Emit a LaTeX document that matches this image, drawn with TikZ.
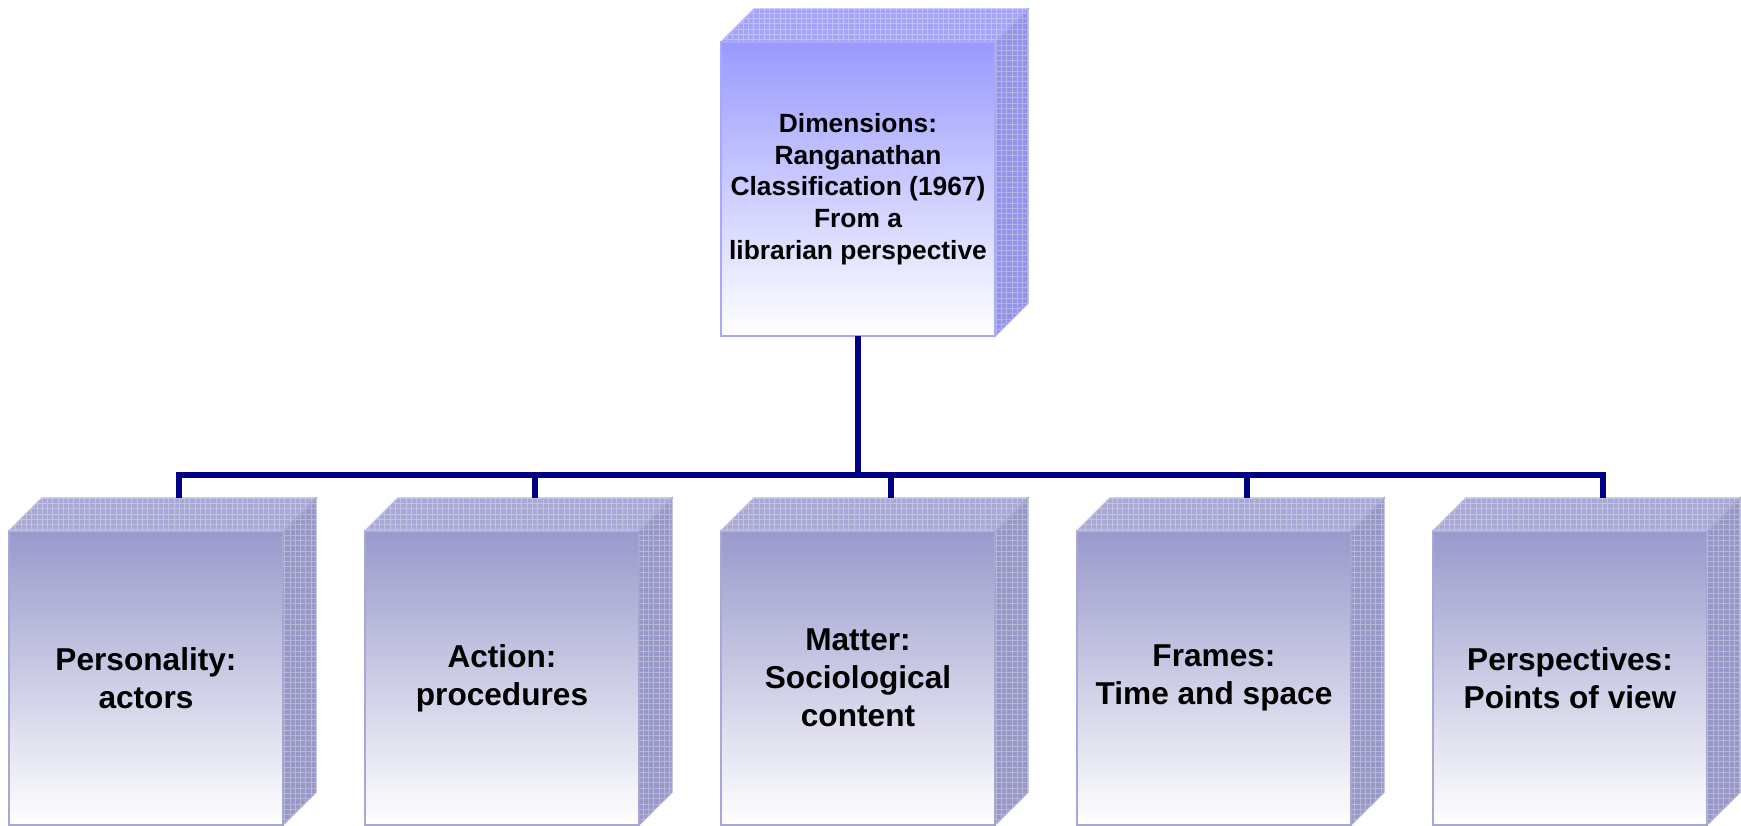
\documentclass[tikz,border=0pt]{standalone}
\usepackage{fontspec}
\setmainfont{Liberation Sans}
\usetikzlibrary{patterns}
\definecolor{trunkblue}{RGB}{0,0,128}
\definecolor{dimface}{RGB}{153,153,255}
\definecolor{dimlid}{RGB}{164,164,246}
\definecolor{dimside}{RGB}{148,148,230}
\definecolor{boxface}{RGB}{153,153,204}
\definecolor{boxlid}{RGB}{168,168,214}
\definecolor{boxside}{RGB}{152,152,200}
\tikzset{trunk/.style={draw=trunkblue, line width=3.4pt}}
\tikzset{facet/.style={draw=#1!85!white, line width=0.8pt, inner sep=0pt, outer sep=0pt, minimum width=5.48cm, minimum height=5.88cm, align=center, top color=#1, bottom color=white, font=\bfseries\fontsize{18}{21.5}\selectfont}}
\tikzset{slab/.style={fill=#1, draw=#1!85!white, line width=0.8pt, postaction={pattern=grid, pattern color=#1!70!white}}}

\begin{document}
\begin{tikzpicture}[x=0.02cm, y=-0.02cm]
    \useasboundingbox (0,0) rectangle (1741,825);
    \fill[slab=dimlid] (721,42) -- ++(33,-33) -- ++(274,0) -- (995,42) -- cycle;
    \fill[slab=dimside] (995,42) -- ++(33,-33) -- ++(0,294) -- (995,336) -- cycle;
    \node[facet=dimface, font=\bfseries\fontsize{15}{18}\selectfont] (dim) at (858,189) {Dimensions:\\Ranganathan\\Classification (1967)\\From a\\librarian perspective};
    \foreach \name/\cx/\txt in {pers/146/{Personality:\\actors}, act/502/{Action:\\procedures}, matt/858/{Matter:\\Sociological\\content}, fram/1214/{Frames:\\Time and space}, persp/1570/{Perspectives:\\Points of view}} {
        \node[facet=boxface] (\name) at (\cx,678) {\txt};
        \fill[slab=boxlid] (\name.north west) -- ++(33,-33) -- ++(274,0) -- (\name.north east) -- cycle;
        \fill[slab=boxside] (\name.north east) -- ++(33,-33) -- ++(0,294) -- (\name.south east) -- cycle;
        \coordinate (\name-top) at ([xshift=0.66cm, yshift=0.66cm]\name.north);
    }
    \coordinate (bus) at (0,475);
    \draw[trunk] (dim.south) -- (dim.south |- bus);
    \draw[trunk] (pers-top) -- (pers-top |- bus) -- (persp-top |- bus) -- (persp-top);
    \foreach \name in {act, matt, fram} {
        \draw[trunk] (\name-top |- bus) -- (\name-top);
    }
\end{tikzpicture}
\end{document}
